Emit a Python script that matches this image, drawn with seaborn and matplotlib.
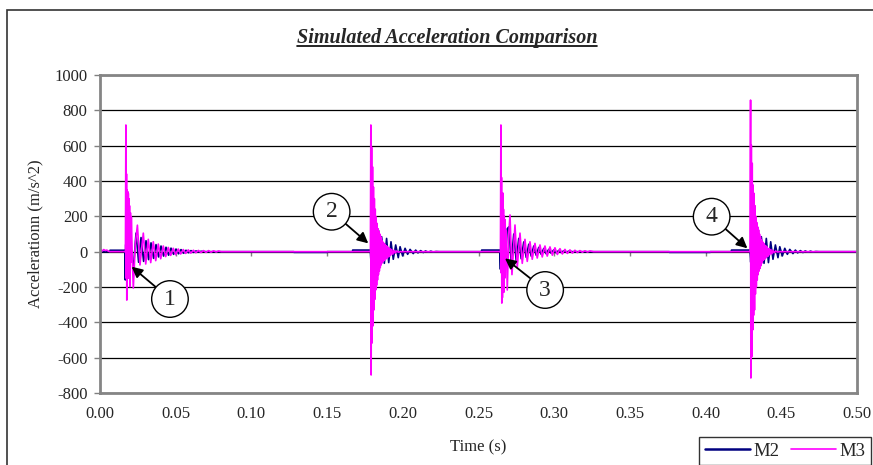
import pandas as pd
import seaborn as sns
import matplotlib.pyplot as plt
from matplotlib.patches import Rectangle
from matplotlib.lines import Line2D

# =================== Data ===================

# M2 (navy) - time (s) and acceleration (m/s^2)
m2_base1_t = [0.0000, 0.0065, 0.0066, 0.0165]
m2_base1_v = [0, 0, 8, 8]
m2_ev1_t = [0.0167, 0.0170, 0.0173, 0.0176, 0.0180, 0.0185, 0.0192, 0.0200, 0.0210,
            0.0222, 0.0238, 0.0255, 0.0271, 0.0288, 0.0304, 0.0321, 0.0337, 0.0354,
            0.0370, 0.0387, 0.0403, 0.0420, 0.0436, 0.0453, 0.0469, 0.0486, 0.0502,
            0.0519, 0.0535, 0.0552, 0.0568, 0.0585, 0.0601, 0.0618, 0.0634, 0.0651,
            0.0667, 0.0700]
m2_ev1_v = [-160, 40, -120, 180, -90, 120, -60, 90, -40,
            -80, 105, -60, 80, -55, 62, -45, 50, -38,
            40, -30, 32, -25, 25, -20, 20, -15, 15,
            -12, 12, -9, 8, -6, 6, -4, 4, -2,
            2, 0]
m2_ev2_t = [0.1280, 0.1281, 0.1500, 0.1501, 0.1668, 0.1669, 0.1785,
            0.1790, 0.1800, 0.1810, 0.1820, 0.1830, 0.1840, 0.1850, 0.1860, 0.1878,
            0.1893, 0.1907, 0.1922, 0.1937, 0.1953, 0.1970, 0.1982, 0.1999, 0.2015,
            0.2032, 0.2048, 0.2069, 0.2085, 0.2100, 0.2118, 0.2135, 0.2150, 0.2168,
            0.2185, 0.2200, 0.2220, 0.2240]
m2_ev2_v = [0, -4, -4, 0, 0, 9, 9,
            -60, 200, -150, 150, -100, 120, -70, 85, -66,
            75, -62, 56, -43, 38, -34, 28, -24, 19,
            -15, 13, -11, 9, -7, 6, -5, 4, -3,
            3, -2, 1, 0]
m2_ev3_t = [0.2520, 0.2521, 0.2640, 0.2645, 0.2650, 0.2660, 0.2666, 0.2675, 0.2690,
            0.2700, 0.2716, 0.2733, 0.2749, 0.2766, 0.2782, 0.2799, 0.2815, 0.2832,
            0.2848, 0.2865, 0.2881, 0.2898, 0.2914, 0.2931, 0.2947, 0.2964, 0.2980,
            0.2997, 0.3013, 0.3030, 0.3046, 0.3063, 0.3080, 0.3096, 0.3120]
m2_ev3_v = [0, 9, 9, -100, 150, -150, 196, -80, 130,
            140, -60, 100, -50, 75, -40, 55, -32, 42,
            -25, 32, -20, 24, -15, 18, -12, 13, -9,
            10, -7, 7, -5, 5, -3, 3, 0]
m2_ev4_t = [0.3760, 0.3761, 0.4030, 0.4031, 0.4170, 0.4171, 0.4293,
            0.4298, 0.4308, 0.4318, 0.4328, 0.4338, 0.4348, 0.4358, 0.4368, 0.4386,
            0.4401, 0.4415, 0.4430, 0.4445, 0.4461, 0.4478, 0.4490, 0.4507, 0.4523,
            0.4540, 0.4556, 0.4577, 0.4593, 0.4608, 0.4626, 0.4643, 0.4658, 0.4676,
            0.4693, 0.4708, 0.4728, 0.4748, 0.5000]
m2_ev4_v = [0, -4, -4, 0, 0, 9, 9,
            -60, 200, -150, 150, -100, 120, -70, 85, -66,
            75, -62, 56, -43, 38, -34, 28, -24, 19,
            -15, 13, -11, 9, -7, 6, -5, 4, -3,
            3, -2, 1, 0, 0]

# M3 (magenta)
m3_base_t = [0.0000, 0.0008, 0.0015, 0.0025, 0.0035, 0.0045, 0.0055, 0.0065]
m3_base_v = [0, 10, 4, 12, 6, 9, 3, 0]
m3_ev1_t = [0.0168, 0.0171, 0.0173, 0.0175, 0.0177, 0.0179, 0.0181, 0.0183, 0.0185,
            0.0187, 0.0189, 0.0191, 0.0193, 0.0195, 0.0198, 0.0201, 0.0204, 0.0207,
            0.0213, 0.0220, 0.0233, 0.0247, 0.0264, 0.0286, 0.0302, 0.0319, 0.0335,
            0.0352, 0.0368, 0.0385, 0.0401, 0.0418, 0.0434, 0.0451, 0.0467, 0.0484,
            0.0500, 0.0517, 0.0533, 0.0550, 0.0566, 0.0583, 0.0600, 0.0617, 0.0633,
            0.0650, 0.0667, 0.0683, 0.0700, 0.0717, 0.0733, 0.0750, 0.0767, 0.0783,
            0.0800]
m3_ev1_v = [0, 717, -150, 440, -274, 350, -120, 340, -60,
            330, -150, 300, -90, 260, -198, 220, -60, 196,
            -30, -206, 40, 150, -75, 105, -70, 70, -62,
            56, -51, 43, -40, 32, -28, 24, -21, 19,
            -17, 15, -13, 12, -10, 10, -8, 8, -6,
            7, -5, 6, -4, 6, -3, 5, -2, 4,
            0]
m3_ev2_t = [0.1786, 0.1789, 0.1791, 0.1794, 0.1797, 0.1800, 0.1803, 0.1806, 0.1809,
            0.1812, 0.1815, 0.1818, 0.1821, 0.1824, 0.1827, 0.1830, 0.1833, 0.1836,
            0.1839, 0.1842, 0.1845, 0.1848, 0.1851, 0.1854, 0.1857, 0.1860, 0.1864,
            0.1868, 0.1872, 0.1876, 0.1880, 0.1884, 0.1888, 0.1893, 0.1898, 0.1903,
            0.1908, 0.1914, 0.1920, 0.1927, 0.1934, 0.1942, 0.1950, 0.1960, 0.1970,
            0.1985]
m3_ev2_v = [0, 717, -698, 592, -517, 480, -420, 366, -330,
            300, -270, 240, -217, 196, -190, 160, -160, 130,
            -130, 115, -110, 100, -90, 85, -75, 66, -64,
            55, -55, 47, -48, 40, -42, 33, -36, 25,
            -28, 18, -20, 12, -14, 8, -8, 4, -3,
            0]
m3_ev3_t = [0.2645, 0.2648, 0.2650, 0.2652, 0.2654, 0.2656, 0.2658, 0.2661, 0.2663,
            0.2665, 0.2667, 0.2670, 0.2673, 0.2676, 0.2680, 0.2683, 0.2690, 0.2700,
            0.2708, 0.2721, 0.2741, 0.2756, 0.2774, 0.2789, 0.2807, 0.2822, 0.2840,
            0.2855, 0.2873, 0.2888, 0.2906, 0.2921, 0.2939, 0.2954, 0.2972, 0.2988,
            0.3005, 0.3021, 0.3038, 0.3054, 0.3071, 0.3087, 0.3104, 0.3120, 0.3137,
            0.3153, 0.3170, 0.3186, 0.3203, 0.3220, 0.3237, 0.3260]
m3_ev3_v = [0, 717, -120, 420, -291, 250, -260, 332, -180,
            240, -230, 200, -150, 180, -60, 120, -217, 100,
            208, -130, 151, -90, 105, -66, 70, -55, 56,
            -43, 47, -36, 38, -30, 32, -25, 27, -20,
            22, -16, 17, -13, 13, -10, 10, -8, 8,
            -5, 6, -3, 5, -2, 4, 0]
m3_ev4_t = [0.4294, 0.4297, 0.4299, 0.4302, 0.4305, 0.4308, 0.4311, 0.4314, 0.4317,
            0.4320, 0.4323, 0.4326, 0.4329, 0.4332, 0.4335, 0.4338, 0.4341, 0.4344,
            0.4347, 0.4350, 0.4353, 0.4356, 0.4359, 0.4362, 0.4365, 0.4369, 0.4373,
            0.4377, 0.4381, 0.4386, 0.4391, 0.4396, 0.4401, 0.4406, 0.4412, 0.4418,
            0.4424, 0.4431, 0.4438, 0.4446, 0.4454, 0.4464, 0.4475, 0.4490, 0.5000]
m3_ev4_v = [0, 858, -715, 604, -594, 500, -443, 377, -360,
            330, -330, 260, -240, 198, -198, 165, -160, 140,
            -130, 123, -110, 100, -95, 85, -80, 66, -64,
            55, -50, 45, -42, 35, -34, 27, -26, 18,
            -18, 12, -12, 7, -6, 3, -2, 0, 0]

# Callouts: label, arrow tip (t, value), circle centre (t, value)
callout_labels = ["1", "2", "3", "4"]
callout_tip = [(0.0209, -85), (0.1772, 47), (0.2675, -38), (0.4276, 19)]
callout_text = [(0.0462, -268), (0.1530, 226), (0.2940, -217), (0.4040, 198)]

x_ticks = [0.00, 0.05, 0.10, 0.15, 0.20, 0.25, 0.30, 0.35, 0.40, 0.45, 0.50]
y_ticks = [-800, -600, -400, -200, 0, 200, 400, 600, 800, 1000]

# =================== Build frame ===================

m2_t = m2_base1_t + m2_ev1_t + m2_ev2_t + m2_ev3_t + m2_ev4_t
m2_v = m2_base1_v + m2_ev1_v + m2_ev2_v + m2_ev3_v + m2_ev4_v
m3_t = m3_base_t + m3_ev1_t + m3_ev2_t + m3_ev3_t + m3_ev4_t
m3_v = m3_base_v + m3_ev1_v + m3_ev2_v + m3_ev3_v + m3_ev4_v

df = pd.concat([
    pd.DataFrame({"Time": m2_t, "Accel": m2_v, "Series": "M2"}),
    pd.DataFrame({"Time": m3_t, "Accel": m3_v, "Series": "M3"}),
], ignore_index=True)

# =================== Plot ===================

sns.set_style("white")
plt.rcParams["font.family"] = ["Liberation Serif", "DejaVu Serif"]
plt.rcParams["axes.unicode_minus"] = False

fig = plt.figure(figsize=(8.73, 4.65), dpi=100)
ax = fig.add_axes([100 / 873, 1 - 393 / 465, 757 / 873, 318 / 465])

sns.lineplot(data=df, x="Time", y="Accel", hue="Series", hue_order=["M2", "M3"],
             palette={"M2": "#000080", "M3": "#FF00FF"}, estimator=None,
             sort=True, ax=ax, linewidth=1.2)
for line in ax.get_lines():
    if line.get_label() == "M2":
        line.set_linewidth(1.8)

ax.set_xlim(0, 0.5)
ax.set_ylim(-800, 1000)
ax.set_xticks(x_ticks)
ax.set_xticklabels([f"{v:.2f}" for v in x_ticks])
ax.set_yticks(y_ticks)
ax.yaxis.grid(True, color="black", linewidth=0.9)
ax.xaxis.grid(False)
for s in ax.spines.values():
    s.set_color("#858585")
    s.set_linewidth(2)
ax.tick_params(axis="y", left=True, length=4, width=1, color="#808080",
               labelsize=12, pad=5)
ax.tick_params(axis="x", bottom=False, length=0, labelsize=12, pad=9)

# small tick marks on the zero line (Excel-style crossing axis)
sec = ax.secondary_xaxis(800 / 1800)
sec.set_xticks(x_ticks)
sec.tick_params(length=3, width=1, color="#808080", labelbottom=False)
sec.spines["bottom"].set_visible(False)

ax.set_xlabel("Time (s)", fontsize=12, labelpad=13)
ax.set_ylabel("Accelerationn (m/s^2)", fontsize=12, labelpad=8)

for lab, tip, txt in zip(callout_labels, callout_tip, callout_text):
    ax.annotate(lab, xy=tip, xytext=txt, ha="center", va="center", fontsize=17,
                bbox=dict(boxstyle="circle,pad=0.33", fc="white", ec="black", lw=1),
                arrowprops=dict(arrowstyle="-|>", color="black", lw=1.3,
                                mutation_scale=16, shrinkA=0, shrinkB=0))

ax.get_legend().remove()
handles, labels = ax.get_legend_handles_labels()
fig.legend(handles, labels, loc="upper left", bbox_to_anchor=(699 / 873, 1 - 437 / 465),
           ncol=2, frameon=True, fancybox=False, edgecolor="black", fontsize=13.5,
           handlelength=2.4, handletextpad=0.2, columnspacing=0.6,
           borderpad=0.3, borderaxespad=0)

# outer chart frame
fig.add_artist(Rectangle((7 / 873, -0.2), 1.5, 1.2 - 10 / 465, transform=fig.transFigure,
                         fill=False, edgecolor="#333333", linewidth=1.2))

title = fig.text(447 / 873, 1 - 38 / 465, "Simulated Acceleration Comparison",
                 ha="center", va="center", fontsize=14.5, fontweight="bold",
                 fontstyle="italic")
fig.canvas.draw()
bb = title.get_window_extent().transformed(fig.transFigure.inverted())
fig.add_artist(Line2D([bb.x0, bb.x1], [bb.y0 + 0.004, bb.y0 + 0.004],
                      transform=fig.transFigure, color="black", linewidth=1.2))

fig.savefig("out.png", dpi=100)
